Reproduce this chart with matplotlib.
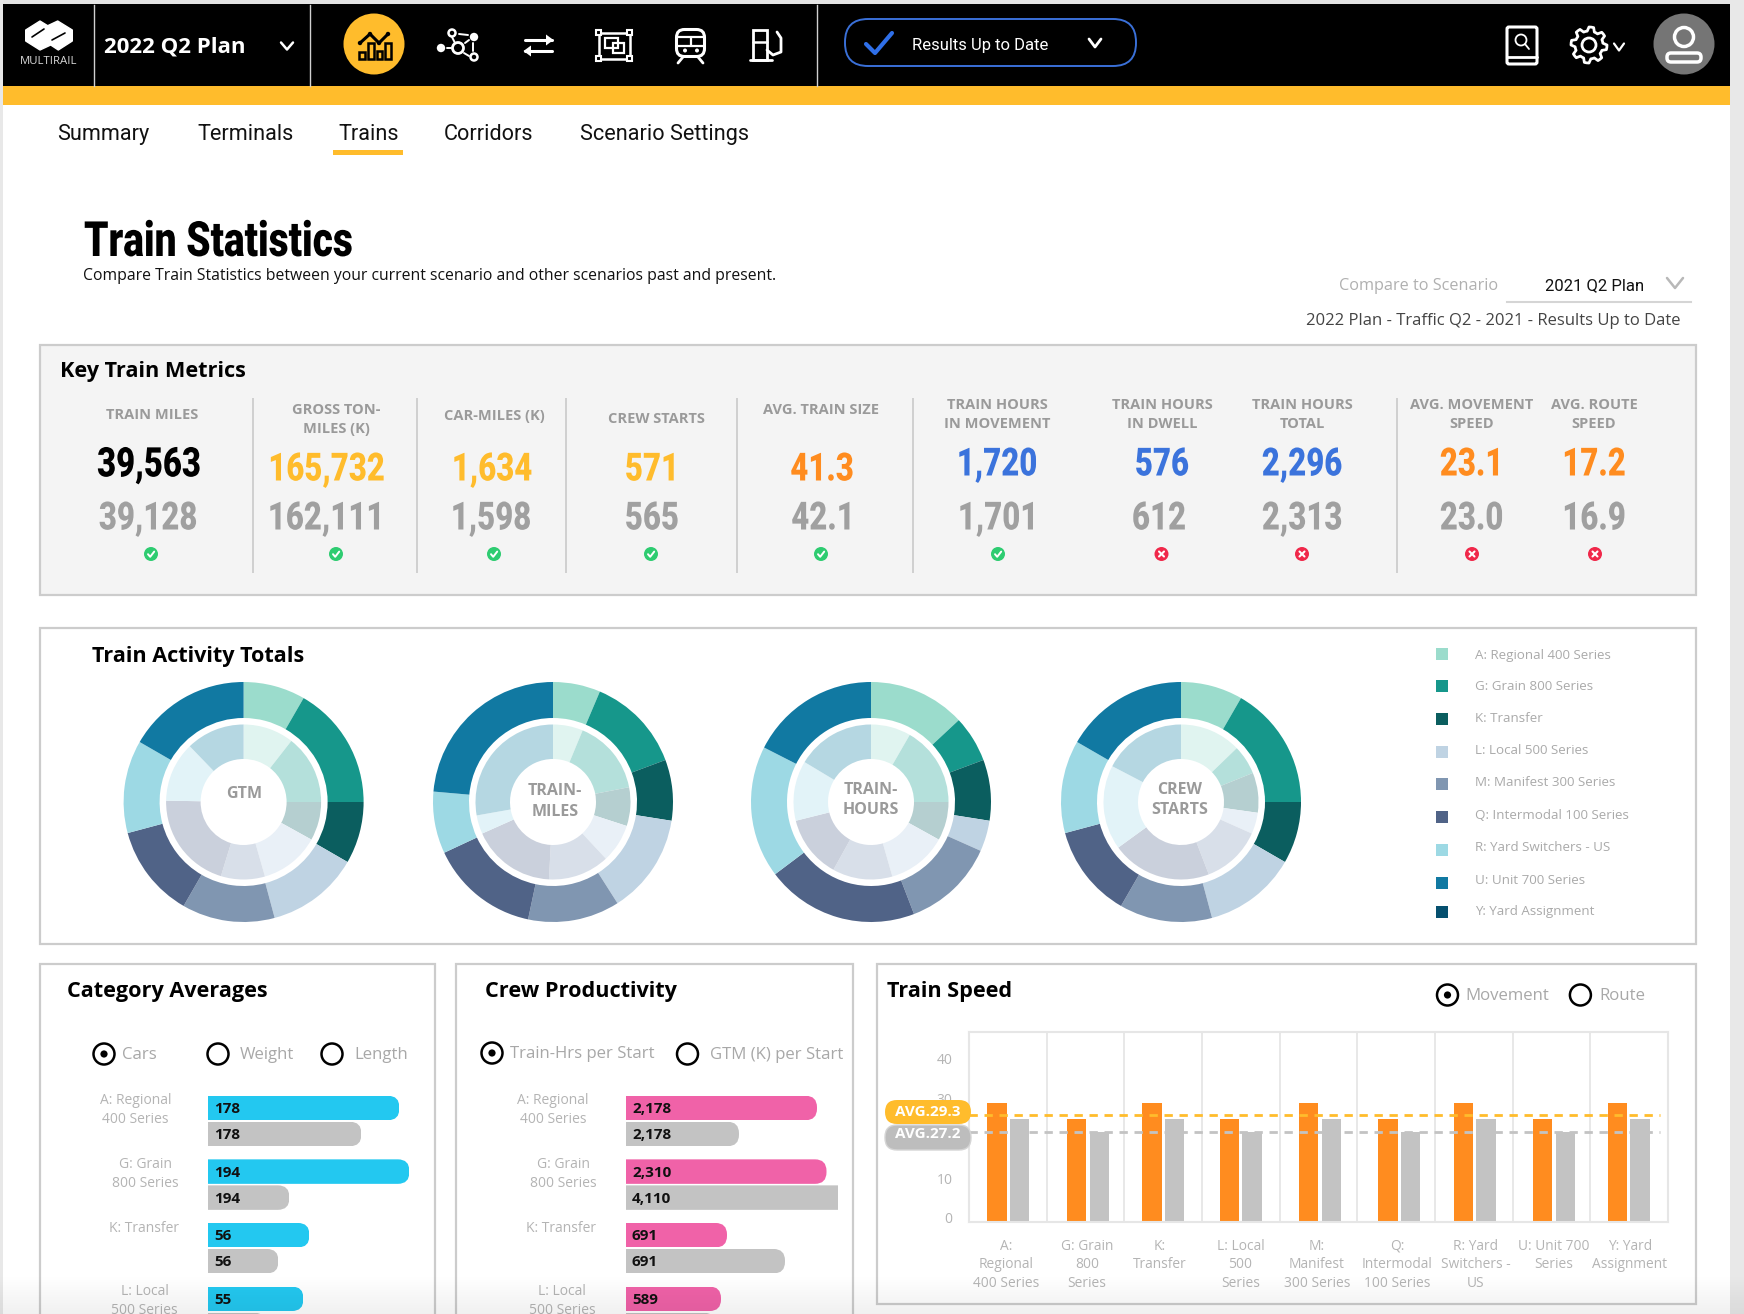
import numpy as np
import matplotlib
matplotlib.use("Agg")
import matplotlib.pyplot as plt
from matplotlib.patches import Circle, FancyBboxPatch, Rectangle, Polygon
from matplotlib.patheffects import AbstractPathEffect
from matplotlib.transforms import Affine2D, ScaledTranslation

W, H = 1744, 1314
SANS = ["Open Sans", "Noto Sans", "DejaVu Sans"]
ROBOTO = ["Roboto", "DejaVu Sans"]

# nav + tabs
tab_names = ["Summary", "Terminals", "Trains", "Corridors", "Scenario Settings"]

# key metrics
metric_labels = ["TRAIN MILES", "GROSS TON-\nMILES (K)", "CAR-MILES (K)", "CREW STARTS", "AVG. TRAIN SIZE",
                 "TRAIN HOURS\nIN MOVEMENT", "TRAIN HOURS\nIN DWELL", "TRAIN HOURS\nTOTAL",
                 "AVG. MOVEMENT\nSPEED", "AVG. ROUTE\nSPEED"]
metric_current = ["39,563", "165,732", "1,634", "571", "41.3", "1,720", "576", "2,296", "23.1", "17.2"]
metric_compare = ["39,128", "162,111", "1,598", "565", "42.1", "1,701", "612", "2,313", "23.0", "16.9"]
metric_ok = [True, True, True, True, True, True, False, False, False, False]

# donuts, shares in degrees, clockwise from the top
donut_titles = ["GTM", "TRAIN-\nMILES", "TRAIN-\nHOURS", "CREW\nSTARTS"]
gtm_outer = [30, 60, 30, 45, 45, 45, 45, 60]
gtm_inner = [38, 52, 29, 45, 33, 74, 45, 44]
miles_outer = [23, 46.5, 29.5, 48.5, 44.5, 53, 30, 85]
miles_inner = [22.5, 56.5, 29, 29, 46, 63, 14, 100]
hours_outer = [47, 22.5, 29.5, 15, 45, 74, 64, 63]
hours_inner = [30, 60, 29, 45, 45, 47, 45, 59]
crew_outer = [30, 60, 30, 45, 45, 45, 45, 60]
crew_inner = [46, 22, 30, 16, 45, 75, 63.5, 62.5]
legend_names = ["A: Regional 400 Series", "G: Grain 800 Series", "K: Transfer", "L: Local 500 Series",
                "M: Manifest 300 Series", "Q: Intermodal 100 Series", "R: Yard Switchers - US",
                "U: Unit 700 Series", "Y: Yard Assignment"]
outer_colors = ["#9bdccc", "#16978b", "#0b5e5f", "#bfd3e3", "#8096b1", "#506387", "#9dd9e4", "#1179a2", "#06506f"]
inner_colors = ["#e0f4f0", "#b4e0db", "#b5cfd0", "#e9f0f7", "#d8dfe9", "#cad0dc", "#e2f3f8", "#b5d7e2"]

# horizontal bars, lengths as drawn (they do not follow the printed labels)
bar_categories = ["A: Regional\n400 Series", "G: Grain\n800 Series", "K: Transfer", "L: Local\n500 Series"]
cars_current = [191, 201, 101, 95]
cars_compare = [153, 81, 70, 57]
cars_labels_current = ["178", "194", "56", "55"]
cars_labels_compare = ["178", "194", "56", ""]
crew_current = [191, 200.5, 101, 95]
crew_compare = [113, 225, 159, 89]
crew_labels_current = ["2,178", "2,310", "691", "589"]
crew_labels_compare = ["2,178", "4,110", "691", ""]

# train speed
speed_categories = ["A:\nRegional\n400 Series", "G: Grain\n800\nSeries", "K:\nTransfer", "L: Local\n500\nSeries",
                    "M:\nManifest\n300 Series", "Q:\nIntermodal\n100 Series", "R: Yard\nSwitchers -\nUS",
                    "U: Unit 700\nSeries", "Y: Yard\nAssignment"]
speed_current = [30, 26, 30, 26, 30, 26, 30, 26, 30]
speed_compare = [26, 22.6, 26, 22.6, 26, 22.6, 26, 22.6, 26]
speed_ticks = [0, 10, 20, 30, 40]
speed_tick_labels = ["0", "10", "", "30", "40"]
avg_current = 27.0
avg_compare = 22.5


class Squeeze(AbstractPathEffect):
    # narrows the glyphs around a pixel column, no condensed face is installed
    def __init__(self, sx, cx):
        super().__init__()
        self.sx = sx
        self.cx = cx

    def draw_path(self, renderer, gc, tpath, affine, rgbFace=None):
        a = affine + Affine2D().translate(-self.cx, 0).scale(self.sx, 1).translate(self.cx, 0)
        renderer.draw_path(gc, tpath, a, rgbFace)


def box(x0, y0, x1, y1, z=1):
    ax = fig.add_axes([x0 / W, 1 - y1 / H, (x1 - x0) / W, (y1 - y0) / H], zorder=z)
    return ax


def txt(x, y, s, size, color="black", weight="normal", ha="left", family=SANS, va="center", **kw):
    return top.text(x, y, s, fontsize=size, color=color, fontweight=weight, ha=ha, va=va, family=family, **kw)


def narrow(x, y, s, size, color, sx, ha="center"):
    t = txt(x, y, s, size, color, "black", ha=ha, family=ROBOTO)
    t.set_path_effects([Squeeze(sx, x)])
    return t


def line(xs, ys, color="white", lw=2, **kw):
    top.plot(xs, ys, color=color, lw=lw, solid_capstyle="round", solid_joinstyle="round", **kw)


def chevron(cx, cy, w, h, color="white", lw=1.8):
    line([cx - w, cx, cx + w], [cy - h, cy + h, cy - h], color, lw)


def panel(x0, y0, x1, y1, fc="white"):
    bg.add_patch(Rectangle((x0, y0), x1 - x0, y1 - y0, fc=fc, ec="#cccccc", lw=1.6))


def ring(cx, cy, r, ec="white", lw=2, fc="none"):
    top.add_patch(Circle((cx, cy), r, fc=fc, ec=ec, lw=lw))


def radio(cx, cy, on, label, tx):
    ring(cx, cy, 10.5, "black", 1.8)
    if on:
        top.add_patch(Circle((cx, cy), 3.6, fc="black", ec="none"))
    txt(tx, cy + 1, label, 12.1, "#a8a8a8")


fig = plt.figure(figsize=(W / 100, H / 100), dpi=100, facecolor="white")

bg = fig.add_axes([0, 0, 1, 1], zorder=0)
top = fig.add_axes([0, 0, 1, 1], zorder=5)
for a in (bg, top):
    a.set_xlim(0, W)
    a.set_ylim(H, 0)
    a.axis("off")
top.patch.set_alpha(0)

# page frame
bg.add_patch(Rectangle((0, 0), W, 4, fc="#e4e4e4", ec="none"))
bg.add_patch(Rectangle((0, 0), 3, H, fc="#e8e8e8", ec="none"))
bg.add_patch(Rectangle((1730, 0), 14, H, fc="#e8e8e8", ec="none"))
bg.add_patch(Rectangle((3, 4), 1727, 82, fc="black", ec="none"))
bg.add_patch(Rectangle((3, 86), 1727, 19, fc="#ffbc2c", ec="none"))
for x in (94, 310, 817):
    bg.plot([x, x], [5, 86], color="#d0d0d0", lw=1)

# logo
top.add_patch(Polygon([(25.7, 30), (40, 21), (47.7, 25.7), (57.7, 21), (72.3, 30), (72.3, 41),
                       (58.3, 50), (50.7, 45), (40, 50), (25.7, 41)], fc="white", ec="white", lw=1, joinstyle="round"))
line([32, 44], [37, 29], "black", 1.2)
line([52, 65], [40, 33], "black", 1.2)
txt(49, 62, "MULTIRAIL", 8.2, "#d8d8d8", ha="center")
txt(104, 47, "2022 Q2 Plan", 16, "white", "bold")
chevron(287, 46, 6, 3.5)

# active chart icon
top.add_patch(Circle((374, 44), 30.5, fc="#ffbc2c", ec="none"))
for bx, bw, bt in ((358.5, 6, 52), (367.5, 6, 43), (377, 5, 51), (385, 6, 43)):
    top.add_patch(Rectangle((bx, bt), bw, 59 - bt, fc="none", ec="black", lw=1.8))
line([360, 370, 379, 388], [43, 34, 43, 34], "black", 2.2)
for px, py in ((360, 43), (370, 34), (379, 43), (388, 34)):
    top.add_patch(Circle((px, py), 2.2, fc="black", ec="none"))

# network icon
ring(458, 48, 5.5, lw=2)
ring(452, 33, 3.5, lw=1.8)
ring(474, 57, 3.5, lw=1.8)
top.add_patch(Circle((474, 37), 4.2, fc="white", ec="none"))
top.add_patch(Circle((441, 48), 4.2, fc="white", ec="none"))
for seg in (((459, 468), (34, 35)), ((452, 455), (37, 43)), ((447, 451), (48, 48)),
            ((464, 469), (53, 56)), ((465, 469), (43, 40)), ((473, 473), (43, 51))):
    line(seg[0], seg[1], lw=1.4)

# swap arrows
line([525, 552], [40, 40], lw=2.2)
top.add_patch(Polygon([(546, 34.5), (553.5, 40), (546, 45.5)], fc="white", ec="none"))
line([525, 552], [51, 51], lw=2.2)
top.add_patch(Polygon([(531, 45.5), (523.5, 51), (531, 56.5)], fc="white", ec="none"))

# frame icon
top.add_patch(Rectangle((598.5, 32.5), 31, 26, fc="none", ec="white", lw=1.8))
top.add_patch(Rectangle((605, 38), 13, 10, fc="none", ec="white", lw=1.6))
top.add_patch(Rectangle((613, 43), 11, 10, fc="none", ec="white", lw=1.6))
for cx, cy in ((598.5, 32.5), (629.5, 32.5), (598.5, 58.5), (629.5, 58.5)):
    top.add_patch(Rectangle((cx - 2.5, cy - 2.5), 5, 5, fc="black", ec="white", lw=1.5))

# train icon
top.add_patch(FancyBboxPatch((676.5, 29.5), 28, 27, boxstyle="round,pad=0,rounding_size=8", fc="none", ec="white", lw=2.2))
line([677, 704], [37, 37], lw=1.6)
line([677, 704], [46, 46], lw=1.6)
line([690.5, 690.5], [37, 46], lw=1.6)
top.add_patch(Circle((685, 50.5), 2, fc="white"))
top.add_patch(Circle((697, 50.5), 2, fc="white"))
line([683, 678], [57, 63], lw=2)
line([698, 703], [57, 63], lw=2)

# fuel icon
top.add_patch(Rectangle((753, 30), 14, 30, fc="none", ec="white", lw=2))
line([753, 767], [42, 42], lw=1.8)
line([750, 772], [60, 60], lw=2)
line([767, 773, 781, 781, 777], [50, 55, 52, 38, 32], lw=2)

# status pill
top.add_patch(FancyBboxPatch((845, 19), 291, 47, boxstyle="round,pad=0,rounding_size=23", fc="black", ec="#3a70d8", lw=1.4))
line([866, 875, 892], [44, 53, 33], "#2f6fe8", 3)
txt(912, 50, "Results Up to Date", 12, "white", family=ROBOTO, va="baseline")
chevron(1095, 43, 6, 4, lw=2)

# right icons
top.add_patch(FancyBboxPatch((1507, 27), 30, 37, boxstyle="round,pad=0,rounding_size=2", fc="none", ec="white", lw=2.2))
line([1507, 1537], [57, 57], lw=2)
ring(1521, 40, 5.5, lw=1.3)
line([1525, 1529], [44, 49], lw=1.3)
angles = np.linspace(0, 2 * np.pi, 49)[:-1]
gear_r = np.where((np.arange(48) % 6) < 3, 18, 14)
top.add_patch(Polygon(np.c_[1589 + gear_r * np.cos(angles), 45 + gear_r * np.sin(angles)], fc="none", ec="white", lw=2, joinstyle="round"))
ring(1589, 45, 7, lw=2)
chevron(1619, 47, 5, 3.5, lw=1.6)
top.add_patch(Circle((1684, 44), 30.5, fc="#757575", ec="none"))
ring(1684, 37, 9.5, lw=2.5)
top.add_patch(FancyBboxPatch((1667, 53), 34, 9, boxstyle="round,pad=0,rounding_size=4", fc="none", ec="white", lw=2.5))

# tabs
for name, x in zip(tab_names, (57, 197, 338.5, 444, 579.5)):
    txt(x, 140, name, 15.6, "#111111", family=ROBOTO, va="baseline")
bg.add_patch(Rectangle((333, 150), 70, 5, fc="#ffbc2c", ec="none"))

# header
narrow(84, 243, "Train Statistics", 35, "black", 0.8, ha="left")
txt(83, 276.5, "Compare Train Statistics between your current scenario and other scenarios past and present.", 11.3, "#111111")
txt(1339, 286, "Compare to Scenario", 11.7, "#b0b0b0")
txt(1545, 285.5, "2021 Q2 Plan", 12, "#111111", family=ROBOTO)
chevron(1675, 283, 8, 5, "#b8b8b8", 1.8)
bg.plot([1507, 1691], [302, 302], color="#d5d5d5", lw=1.5)
txt(1306, 321, "2022 Plan - Traffic Q2 - 2021 - Results Up to Date", 12, "#444444")

# key metrics
panel(40, 345, 1696, 595, "#f4f4f4")
txt(60, 371.5, "Key Train Metrics", 15.6, "black", "bold")
for x in (253, 417, 566, 737, 913, 1397):
    bg.plot([x, x], [399, 572], color="#cfcfcf", lw=1.4)
label_x = [152, 336, 494.5, 656, 821, 997, 1162, 1302, 1471.5, 1594]
label_y = [415, 419.5, 416, 419, 410, 414.5, 414.5, 414.5, 414.5, 414.5]
cur_x = [149, 326.5, 492, 652, 822, 997, 1162, 1302, 1471.5, 1594]
cur_y = [465, 470, 470, 470, 470, 465, 465, 465, 465, 465]
cmp_x = [148, 326, 491, 652, 823, 998, 1159, 1302, 1471.5, 1594]
icon_x = [151, 336, 494, 651, 821, 998, 1161.5, 1302, 1472, 1595]
cur_colors = ["black", "#ffbc2c", "#ffbc2c", "#ffbc2c", "#ff8c1f", "#3b73dc", "#3b73dc", "#3b73dc", "#ff8c1f", "#ff8c1f"]
cur_sizes = [29.5, 28, 28, 28, 28, 28, 28, 28, 28, 28]
for i, lab in enumerate(metric_labels):
    txt(label_x[i], label_y[i], lab, 10.5, "#9a9a9a", "bold", ha="center", linespacing=1.4)
    narrow(cur_x[i], cur_y[i], metric_current[i], cur_sizes[i], cur_colors[i], 0.8)
    narrow(cmp_x[i], 519, metric_compare[i], 28, "#a0a0a0", 0.8)
    ix = icon_x[i]
    if metric_ok[i]:
        top.add_patch(Circle((ix, 554), 7, fc="#2ecc71", ec="none"))
        line([ix - 3, ix - 0.8, ix + 3.2], [554.2, 556.8, 551.6], "white", 1.4)
    else:
        top.add_patch(Circle((ix, 554), 7, fc="#f0284a", ec="none"))
        line([ix - 2.5, ix + 2.5], [551.5, 556.5], "white", 1.5)
        line([ix - 2.5, ix + 2.5], [556.5, 551.5], "white", 1.5)

# activity donuts
panel(40, 628, 1696, 944)
txt(92, 656.5, "Train Activity Totals", 15.6, "black", "bold")
donut_outer = [gtm_outer, miles_outer, hours_outer, crew_outer]
donut_inner = [gtm_inner, miles_inner, hours_inner, crew_inner]
donut_x = [243.6, 553, 871, 1181]
title_x = [244, 555, 871, 1180]
title_y = [794, 801.5, 800, 800]
R = 120
for i in range(4):
    ax = box(donut_x[i] - R, 802 - R, donut_x[i] + R, 802 + R)
    ax.pie(donut_outer[i], radius=1, startangle=90, counterclock=False, colors=outer_colors[:8],
           wedgeprops=dict(width=36 / R, linewidth=0))
    ax.pie(donut_inner[i], radius=77.5 / R, startangle=90, counterclock=False, colors=inner_colors,
           wedgeprops=dict(width=34.5 / R, linewidth=0))
    ax.set_xlim(-1, 1)
    ax.set_ylim(-1, 1)
    txt(title_x[i], title_y[i], donut_titles[i], 11.5, "#9a9a9a", "bold", ha="center", linespacing=1.35)

swatch_y = [654, 686, 719, 752, 784, 817, 850, 883, 912]
legend_y = [655.5, 687, 718.5, 751, 782.5, 815.5, 847.5, 880, 911]
for i, name in enumerate(legend_names):
    bg.add_patch(Rectangle((1436, swatch_y[i] - 6), 12, 12, fc=outer_colors[i], ec="none"))
    txt(1475, legend_y[i], name, 9.6, "#aaaaaa")

# category averages and crew productivity
panel(40, 964, 435, 1340)
panel(456, 964, 853, 1340)
txt(67, 992, "Category Averages", 15.6, "black", "bold")
txt(485, 992, "Crew Productivity", 15.6, "black", "bold")
radio(104, 1054, True, "Cars", 122)
radio(218, 1054, False, "Weight", 240)
radio(332, 1054, False, "Length", 354)
radio(492, 1053, True, "Train-Hrs per Start", 510)
radio(687.5, 1054, False, "GTM (K) per Start", 710)


def hbars(x0, x1, current, compare, cur_labels, cmp_labels, color, cat_x):
    ax = box(x0, 1096, x1, H)
    ax.set_xlim(0, x1 - x0)
    ax.set_ylim(H - 1096, 0)
    ax.axis("off")
    ax.patch.set_alpha(0)
    rows = np.arange(len(current)) * 63.6
    b1 = ax.barh(rows + 12, current, height=24.5, color=color)
    b2 = ax.barh(rows + 38, compare, height=24.5, color="#c3c3c3")
    for b in list(b1) + list(b2):
        cap = FancyBboxPatch((-20, b.get_y()), b.get_width() + 20, b.get_height(),
                             boxstyle="round,pad=0,rounding_size=11.5", transform=ax.transData)
        b.set_clip_path(cap)
    for i, row in enumerate(rows):
        ax.text(6, row + 13, cur_labels[i], fontsize=11, fontweight="bold", va="center", family=SANS, color="#111111")
        ax.text(6, row + 39, cmp_labels[i], fontsize=11, fontweight="bold", va="center", family=SANS, color="#111111")
        txt(cat_x[i], 1097 + row + 13 if "\n" in bar_categories[i] else 1097 + row + 4, bar_categories[i], 10, "#b4b4b4",
            ha="center", linespacing=1.35)


hbars(208.4, 420, cars_current, cars_compare, cars_labels_current, cars_labels_compare, "#23c8f0", [135.7, 145.6, 144, 144.6])
hbars(626, 838, crew_current, crew_compare, crew_labels_current, crew_labels_compare, "#f062a8", [553, 563, 561, 562])

# train speed
panel(877, 964, 1696, 1304)
txt(887, 992, "Train Speed", 15.6, "black", "bold")
radio(1447.5, 995, True, "Movement", 1465.5)
radio(1580.4, 995, False, "Route", 1599)

ax = box(969, 1032, 1668, 1222)
ax.set_xlim(-0.5, 8.5)
ax.set_ylim(0, (1222 - 1032) / 3.98)
x = np.arange(len(speed_categories))
# groups are not quite evenly spaced in the source, offsets in pixels
bar_nudge = np.array([0.5, 2.5, 0, 0, 1.5, 3, 1, 2.5, -0.5]) / 77.67
label_at = np.array([1006, 1087, 1160, 1240.5, 1317, 1397, 1476, 1553.5, 1630])
ax.bar(x + bar_nudge - 0.146, speed_current, width=0.25, color="#ff8c1f", zorder=2)
ax.bar(x + bar_nudge + 0.146, speed_compare, width=0.25, color="#c3c3c3", zorder=2)
ax.plot([-0.5, 8.4], [avg_current, avg_current], color="#ffbc2c", lw=2, ls=(0, (3, 2.4)), zorder=3)
ax.plot([-0.5, 8.4], [avg_compare, avg_compare], color="#c3c3c3", lw=2, ls=(0, (3, 2.4)), zorder=3)
ax.set_yticks(speed_ticks)
ax.set_yticklabels(speed_tick_labels)
ax.set_xticks((label_at - 969) / 77.67 - 0.5)
ax.set_xticklabels(speed_categories, linespacing=1.32)
ax.set_xticks(np.arange(-0.5, 9), minor=True)
ax.tick_params(axis="both", which="both", length=0)
ax.tick_params(axis="y", labelsize=10, labelcolor="#b4b4b4", pad=12)
ax.tick_params(axis="x", labelsize=9.9, labelcolor="#b4b4b4", pad=12)
for lab in ax.get_yticklabels():
    lab.set_family(SANS)
    lab.set_transform(lab.get_transform() + ScaledTranslation(0, 3 / 72, fig.dpi_scale_trans))
for lab in ax.get_xticklabels():
    lab.set_family(SANS)
ax.grid(which="minor", axis="x", color="#e6e6e6", lw=1.3, zorder=0)
for s in ax.spines.values():
    s.set_color("#e6e6e6")
    s.set_linewidth(1.5)

top.add_patch(FancyBboxPatch((885, 1125), 86, 25, boxstyle="round,pad=0,rounding_size=12", fc="#bdbdbd", ec="#d5d5d5", lw=1))
top.add_patch(FancyBboxPatch((885, 1100), 86, 24, boxstyle="round,pad=0,rounding_size=12", fc="#ffbc2c", ec="none"))
txt(928, 1111.5, "AVG.29.3", 11, "white", "bold", ha="center")
txt(928, 1134.5, "AVG.27.2", 11, "white", "bold", ha="center")

# soft fade at the bottom of the page
fade = np.zeros((40, 1, 4))
fade[:, 0, 3] = np.linspace(0, 0.06, 40)
top.imshow(fade, extent=(0, W, H, H - 40), aspect="auto", zorder=10)
top.set_xlim(0, W)
top.set_ylim(H, 0)

fig.savefig("out.png", dpi=100)
